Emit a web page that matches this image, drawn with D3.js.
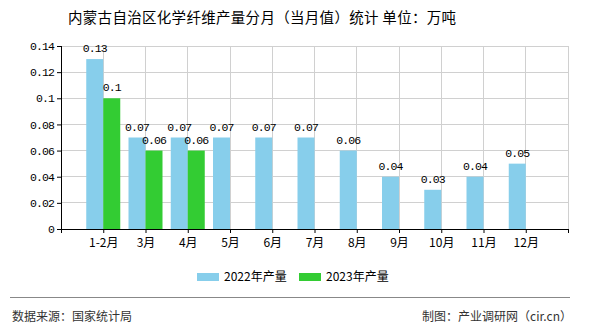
<!DOCTYPE html>
<html><head><meta charset="utf-8">
<script src="https://cdn.jsdelivr.net/npm/d3@7"></script>
<style>body{margin:0;background:#fff;}svg{display:block;}</style>
</head><body>
<script>
const categories = ["1-2月","3月","4月","5月","6月","7月","8月","9月","10月","11月","12月"];
const values2022 = [0.13,0.07,0.07,0.07,0.07,0.07,0.06,0.04,0.03,0.04,0.05];
const values2023 = [0.1,0.06,0.06];
const yTicks = [0,0.02,0.04,0.06,0.08,0.1,0.12,0.14];
const seriesNames = ["2022年产量","2023年产量"];
const colors = ["#87CEEB","#33CC33"];

const W=590,H=330;
const svg=d3.select("body").append("svg").attr("width",W).attr("height",H);
const cjk="'Noto Sans CJK SC','Noto Sans',sans-serif";
const mono="'Liberation Mono','DejaVu Sans Mono',monospace";

const x=d3.scaleLinear().domain([0,categories.length+1]).range([61,568]);
const y=d3.scaleLinear().domain([0,0.14]).range([229,46]);
const bw=17;

// gridlines
svg.append("g").selectAll("line").data(yTicks.slice(1)).join("line")
  .attr("x1",61).attr("x2",568).attr("y1",d=>y(d)).attr("y2",d=>y(d))
  .attr("stroke","#d0d0d0").attr("stroke-width",1).attr("shape-rendering","crispEdges");
svg.append("g").selectAll("line").data(d3.range(1,categories.length+2)).join("line")
  .attr("x1",d=>x(d)).attr("x2",d=>x(d)).attr("y1",46).attr("y2",229)
  .attr("stroke","#d0d0d0").attr("stroke-width",1).attr("shape-rendering","crispEdges");

// bars
svg.append("g").selectAll("rect").data(values2022).join("rect")
  .attr("x",(d,i)=>x(i+1)-bw).attr("width",bw).attr("y",d=>y(d)).attr("height",d=>y(0)-y(d)).attr("fill",colors[0]);
svg.append("g").selectAll("rect").data(values2023).join("rect")
  .attr("x",(d,i)=>x(i+1)).attr("width",bw).attr("y",d=>y(d)).attr("height",d=>y(0)-y(d)).attr("fill",colors[1]);

// value labels
const lab=(data,off)=>svg.append("g").selectAll("text").data(data).join("text")
  .attr("x",(d,i)=>x(i+1)+off).attr("y",d=>y(d)-7).attr("text-anchor","middle")
  .attr("font-family",mono).attr("font-size",11.5).attr("letter-spacing","-0.9").attr("fill","#000")
  .text(d=>String(d));
lab(values2022,-bw/2);
lab(values2023,bw/2);

// y axis
const ya=svg.append("g").attr("transform","translate(61,0)")
  .call(d3.axisLeft(y).tickValues(yTicks).tickSize(4).tickFormat(d=>String(d)));
ya.select(".domain").attr("stroke","#000").attr("d","M0.5,229V46");
ya.selectAll("text").attr("font-family",mono).attr("font-size",11.5).attr("letter-spacing","-0.9").attr("fill","#000");
ya.selectAll("line").attr("stroke","#000");

// x axis
const xa=svg.append("g").attr("transform","translate(0,229)")
  .call(d3.axisBottom(x).tickValues(d3.range(0,categories.length+2)).tickSize(4)
  .tickFormat(d=>(d>=1&&d<=categories.length)?categories[d-1]:""));
xa.select(".domain").attr("stroke","#000").attr("d","M61,0.5H568");
xa.selectAll("line").attr("stroke","#000");
xa.selectAll("text").attr("font-family",cjk).attr("font-size",12).attr("fill","#000").attr("dy","0.9em");

// title
svg.append("text").attr("x",68).attr("y",23).attr("font-family",cjk).attr("font-size",14.5).attr("letter-spacing","0.3").attr("fill","#000")
  .text("内蒙古自治区化学纤维产量分月（当月值）统计 单位：万吨");

// legend
const lg=[{x:197,tx:224},{x:299,tx:326}];
seriesNames.forEach((n,i)=>{
  svg.append("rect").attr("x",lg[i].x).attr("y",273).attr("width",22).attr("height",8).attr("fill",colors[i]);
  svg.append("text").attr("x",lg[i].tx).attr("y",281).attr("font-family",cjk).attr("font-size",12).attr("fill","#000").text(n);
});

// footer
svg.append("line").attr("x1",10).attr("x2",570).attr("y1",297.5).attr("y2",297.5).attr("stroke","#888").attr("stroke-width",1);
svg.append("text").attr("x",12).attr("y",321).attr("font-family",cjk).attr("font-size",12).attr("fill","#333").text("数据来源：国家统计局");
svg.append("text").attr("x",572).attr("y",321).attr("text-anchor","end").attr("font-family",cjk).attr("font-size",12).attr("fill","#333").text("制图：产业调研网（cir.cn）");
</script>
</body></html>
